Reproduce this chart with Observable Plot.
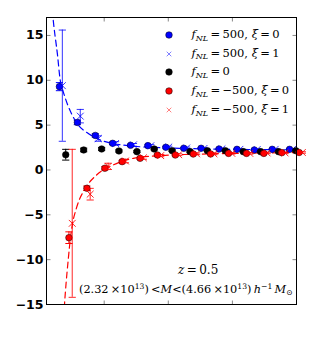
<!DOCTYPE html>
<html>
<head>
<meta charset="utf-8">
<script src="https://cdn.jsdelivr.net/npm/d3@7"></script>
<script src="https://cdn.jsdelivr.net/npm/@observablehq/plot@0.6"></script>
<style>
  html, body { margin: 0; padding: 0; background: white; }
  #wrap { position: relative; width: 311px; height: 348px; overflow: hidden; }
  .math { position: absolute; font-family: "DejaVu Serif", serif; color: #000; white-space: nowrap; line-height: 1; }
  .math sup, .math sub { font-size: 68%; position: relative; vertical-align: baseline; }
  .math sup { top: -0.5em; }
  .math sub { top: 0.3em; }
  #legend { position: absolute; left: 0; top: 0; }
  .lrow { position: absolute; left: 0; height: 0; }
  .ltext { position: absolute; font-family: "DejaVu Serif", serif; font-size: 11.5px; white-space: nowrap; line-height: 1; transform: translateY(-55%); }
  .ltext sub { font-size: 70%; position: relative; vertical-align: baseline; top: 0.35em; }
</style>
</head>
<body>
<div id="wrap"></div>
<script>
// ---- data ----
const k = [0.0040, 0.0068, 0.0096, 0.0123, 0.0151, 0.0178, 0.0206, 0.0234, 0.0261, 0.0289, 0.0317, 0.0344, 0.0372, 0.0399];

const blueDot     = [9.29, 5.30, 3.85, 2.97, 2.75, 2.71, 2.53, 2.42, 2.42, 2.34, 2.30, 2.23, 2.30, 2.30];
const blueDotErr  = [0.45, 0.25, 0.18, 0.14, 0.12, 0.10, 0.10, 0.09, 0.08, 0.08, 0.07, 0.07, 0.07, 0.07];
const blueCross   = [9.40, 6.00, 3.50, 2.95, 2.80, 2.70, 2.55, 2.45, 2.40, 2.35, 2.30, 2.28, 2.30, 2.28];
const blueCrossErr= [6.20, 0.75, 0.30, 0.20, 0.15, 0.12, 0.10, 0.10, 0.10, 0.08, 0.08, 0.08, 0.08, 0.08];
const blackDot    = [1.70, 2.23, 2.34, 2.12, 2.04, 2.34, 2.15, 2.04, 2.15, 2.15, 2.04, 2.04, 2.04, 2.15];
const blackErr    = [0.60, 0.20, 0.15, 0.12, 0.10, 0.10, 0.09, 0.08, 0.08, 0.07, 0.07, 0.07, 0.07, 0.07];
const redDot      = [-7.55, -2.04, 0.19, 0.93, 1.30, 1.67, 1.67, 1.78, 1.78, 1.85, 1.85, 1.85, 1.93, 1.95];
const redDotErr   = [0.65, 0.25, 0.18, 0.14, 0.12, 0.10, 0.10, 0.09, 0.08, 0.08, 0.07, 0.07, 0.07, 0.07];
const redCross    = [-5.95, -2.70, 0.40, 1.00, 1.35, 1.60, 1.70, 1.80, 1.80, 1.85, 1.85, 1.90, 1.90, 1.95];
const redCrossErr = [8.25, 0.65, 0.35, 0.20, 0.15, 0.12, 0.10, 0.10, 0.10, 0.08, 0.08, 0.08, 0.08, 0.08];

const blueCurveK = [0.0019, 0.00205, 0.00272, 0.00314, 0.0035, 0.00428, 0.00517, 0.00595, 0.00725, 0.0096, 0.01417, 0.020, 0.025, 0.030, 0.035, 0.040];
const blueCurveV = [17.8, 16.7, 12.8, 10.0, 9.0, 7.3, 5.9, 5.0, 4.2, 3.3, 2.68, 2.45, 2.36, 2.30, 2.27, 2.25];
const redCurveK  = [0.0037, 0.00381, 0.00397, 0.00439, 0.00475, 0.00506, 0.00569, 0.0071, 0.00881, 0.01142, 0.01455, 0.019, 0.024, 0.030, 0.035, 0.040];
const redCurveV  = [-16.5, -15.0, -13.4, -10.0, -7.5, -6.0, -4.2, -2.0, -0.56, 0.56, 1.30, 1.62, 1.75, 1.85, 1.90, 1.95];

const yTicks = [-15, -10, -5, 0, 5, 10, 15];
const xTicks = [0.01, 0.02, 0.03];

const legendLabels = [
  '<i>f</i><sub><i>NL</i></sub>\u2009=\u2009500, <i>ξ</i>\u2009=\u20090',
  '<i>f</i><sub><i>NL</i></sub>\u2009=\u2009500, <i>ξ</i>\u2009=\u20091',
  '<i>f</i><sub><i>NL</i></sub>\u2009=\u20090',
  '<i>f</i><sub><i>NL</i></sub>\u2009=\u2009\u2212500, <i>ξ</i>\u2009=\u20090',
  '<i>f</i><sub><i>NL</i></sub>\u2009=\u2009\u2212500, <i>ξ</i>\u2009=\u20091'
];

// ---- build ----
const rows = (vals, errs) => k.map((kk, i) => ({k: kk, v: vals[i], lo: vals[i] - errs[i], hi: vals[i] + errs[i]}));
const series = [
  {data: rows(blueDot, blueDotErr),     color: "#0000ff", dx: -6.3, kind: "dot",   op: 1},
  {data: rows(blueCross, blueCrossErr), color: "#0000ff", dx: -3.4, kind: "cross", op: 0.8},
  {data: rows(blackDot, blackErr),      color: "#000000", dx: 0,    kind: "dot",   op: 1},
  {data: rows(redDot, redDotErr),       color: "#ff0000", dx: 3.2,  kind: "dot",   op: 1},
  {data: rows(redCross, redCrossErr),   color: "#ff0000", dx: 6.5,  kind: "cross", op: 0.85}
];

const capSym = {draw(c) { c.moveTo(-3.6, 0); c.lineTo(3.6, 0); }};
const tickL  = {draw(c) { c.moveTo(0, 0); c.lineTo(4, 0); }};
const tickR  = {draw(c) { c.moveTo(0, 0); c.lineTo(-4, 0); }};
const tickT  = {draw(c) { c.moveTo(0, 0); c.lineTo(0, 4); }};
const tickB  = {draw(c) { c.moveTo(0, 0); c.lineTo(0, -4); }};

const marks = [];
marks.push(Plot.line(blueCurveK.map((kk, i) => ({k: kk, v: blueCurveV[i]})), {x: "k", y: "v", stroke: "#0000ff", strokeWidth: 1.2, strokeDasharray: "6,4", curve: "monotone-x", clip: true}));
marks.push(Plot.line(redCurveK.map((kk, i) => ({k: kk, v: redCurveV[i]})), {x: "k", y: "v", stroke: "#ff0000", strokeWidth: 1.2, strokeDasharray: "6,4", curve: "monotone-x", clip: true}));

for (const s of series) {
  marks.push(Plot.ruleX(s.data, {x: "k", y1: "lo", y2: "hi", stroke: s.color, strokeOpacity: s.op, strokeWidth: 1, dx: s.dx, clip: true}));
  marks.push(Plot.dot(s.data, {x: "k", y: "lo", symbol: capSym, fill: "none", stroke: s.color, strokeOpacity: s.op, strokeWidth: 1, dx: s.dx}));
  marks.push(Plot.dot(s.data, {x: "k", y: "hi", symbol: capSym, fill: "none", stroke: s.color, strokeOpacity: s.op, strokeWidth: 1, dx: s.dx}));
  if (s.kind === "dot") {
    marks.push(Plot.dot(s.data, {x: "k", y: "v", r: 3.3, fill: s.color, stroke: "#000", strokeWidth: 0.5, dx: s.dx}));
  } else {
    marks.push(Plot.dot(s.data, {x: "k", y: "v", r: 3.2, symbol: "times", fill: "none", stroke: s.color, strokeOpacity: s.op, strokeWidth: 1, dx: s.dx}));
  }
}

// inward ticks
marks.push(Plot.dot(yTicks, {y: d => d, frameAnchor: "left", symbol: tickL, fill: "none", stroke: "#888", strokeWidth: 1}));
marks.push(Plot.dot(yTicks, {y: d => d, frameAnchor: "right", symbol: tickR, fill: "none", stroke: "#888", strokeWidth: 1}));
marks.push(Plot.dot(xTicks, {x: d => d, frameAnchor: "top", symbol: tickT, fill: "none", stroke: "#888", strokeWidth: 1}));
marks.push(Plot.dot(xTicks, {x: d => d, frameAnchor: "bottom", symbol: tickB, fill: "none", stroke: "#888", strokeWidth: 1}));
marks.push(Plot.axisY(yTicks, {tickSize: 0, tickPadding: 3, label: null, fontSize: 12.5, fontWeight: "bold", fontFamily: "DejaVu Sans", fill: "#000"}));
marks.push(Plot.frame({stroke: "#000", strokeWidth: 1}));

const chart = Plot.plot({
  width: 311, height: 348,
  marginLeft: 46, marginRight: 15, marginTop: 17, marginBottom: 44,
  x: {domain: [0.001, 0.04], axis: null},
  y: {domain: [-15, 17]},
  style: {background: "white", overflow: "visible"},
  marks
});
const wrap = document.getElementById("wrap");
wrap.appendChild(chart);

// legend
const legend = document.createElement("div");
legend.id = "legend";
const legRowY = [35, 53.5, 72.3, 91.2, 110];
const legMarks = [
  {kind: "dot", color: "#0000ff"},
  {kind: "cross", color: "#0000ff"},
  {kind: "dot", color: "#000000"},
  {kind: "dot", color: "#ff0000"},
  {kind: "cross", color: "#ff0000"}
];
legendLabels.forEach((lab, i) => {
  const row = document.createElement("div");
  row.className = "lrow";
  row.style.top = legRowY[i] + "px";
  const m = legMarks[i];
  const svgNS = "http://www.w3.org/2000/svg";
  const sv = document.createElementNS(svgNS, "svg");
  sv.setAttribute("width", 10); sv.setAttribute("height", 10);
  sv.style.position = "absolute"; sv.style.left = "164.3px"; sv.style.top = "-5px";
  if (m.kind === "dot") {
    const c = document.createElementNS(svgNS, "circle");
    c.setAttribute("cx", 5); c.setAttribute("cy", 5); c.setAttribute("r", 3.3);
    c.setAttribute("fill", m.color); c.setAttribute("stroke", "#000"); c.setAttribute("stroke-width", 0.5);
    sv.appendChild(c);
  } else {
    const p = document.createElementNS(svgNS, "path");
    p.setAttribute("d", "M2.7,2.7L7.3,7.3M7.3,2.7L2.7,7.3");
    p.setAttribute("stroke", m.color); p.setAttribute("stroke-opacity", 0.5); p.setAttribute("fill", "none");
    sv.appendChild(p);
  }
  row.appendChild(sv);
  const t = document.createElement("div");
  t.className = "ltext";
  t.style.left = "191.5px";
  t.innerHTML = lab;
  row.appendChild(t);
  legend.appendChild(row);
});
wrap.appendChild(legend);

// annotations
const a1 = document.createElement("div");
a1.className = "math";
a1.style.cssText += "left:178px; top:264px; font-size:12px;";
a1.innerHTML = '<i>z</i>\u2009=\u20090.5';
wrap.appendChild(a1);

const a2 = document.createElement("div");
a2.className = "math";
a2.style.cssText += "left:79px; top:284px; font-size:11.3px;";
a2.innerHTML = '(2.32\u2009×10<sup>13</sup>)\u2009&lt;<i>M</i>&lt;(4.66\u2009×10<sup>13</sup>)\u2009<i>h</i><sup>\u22121</sup>\u2009<i>M</i><sub>⊙</sub>';
wrap.appendChild(a2);
</script>
</body>
</html>
